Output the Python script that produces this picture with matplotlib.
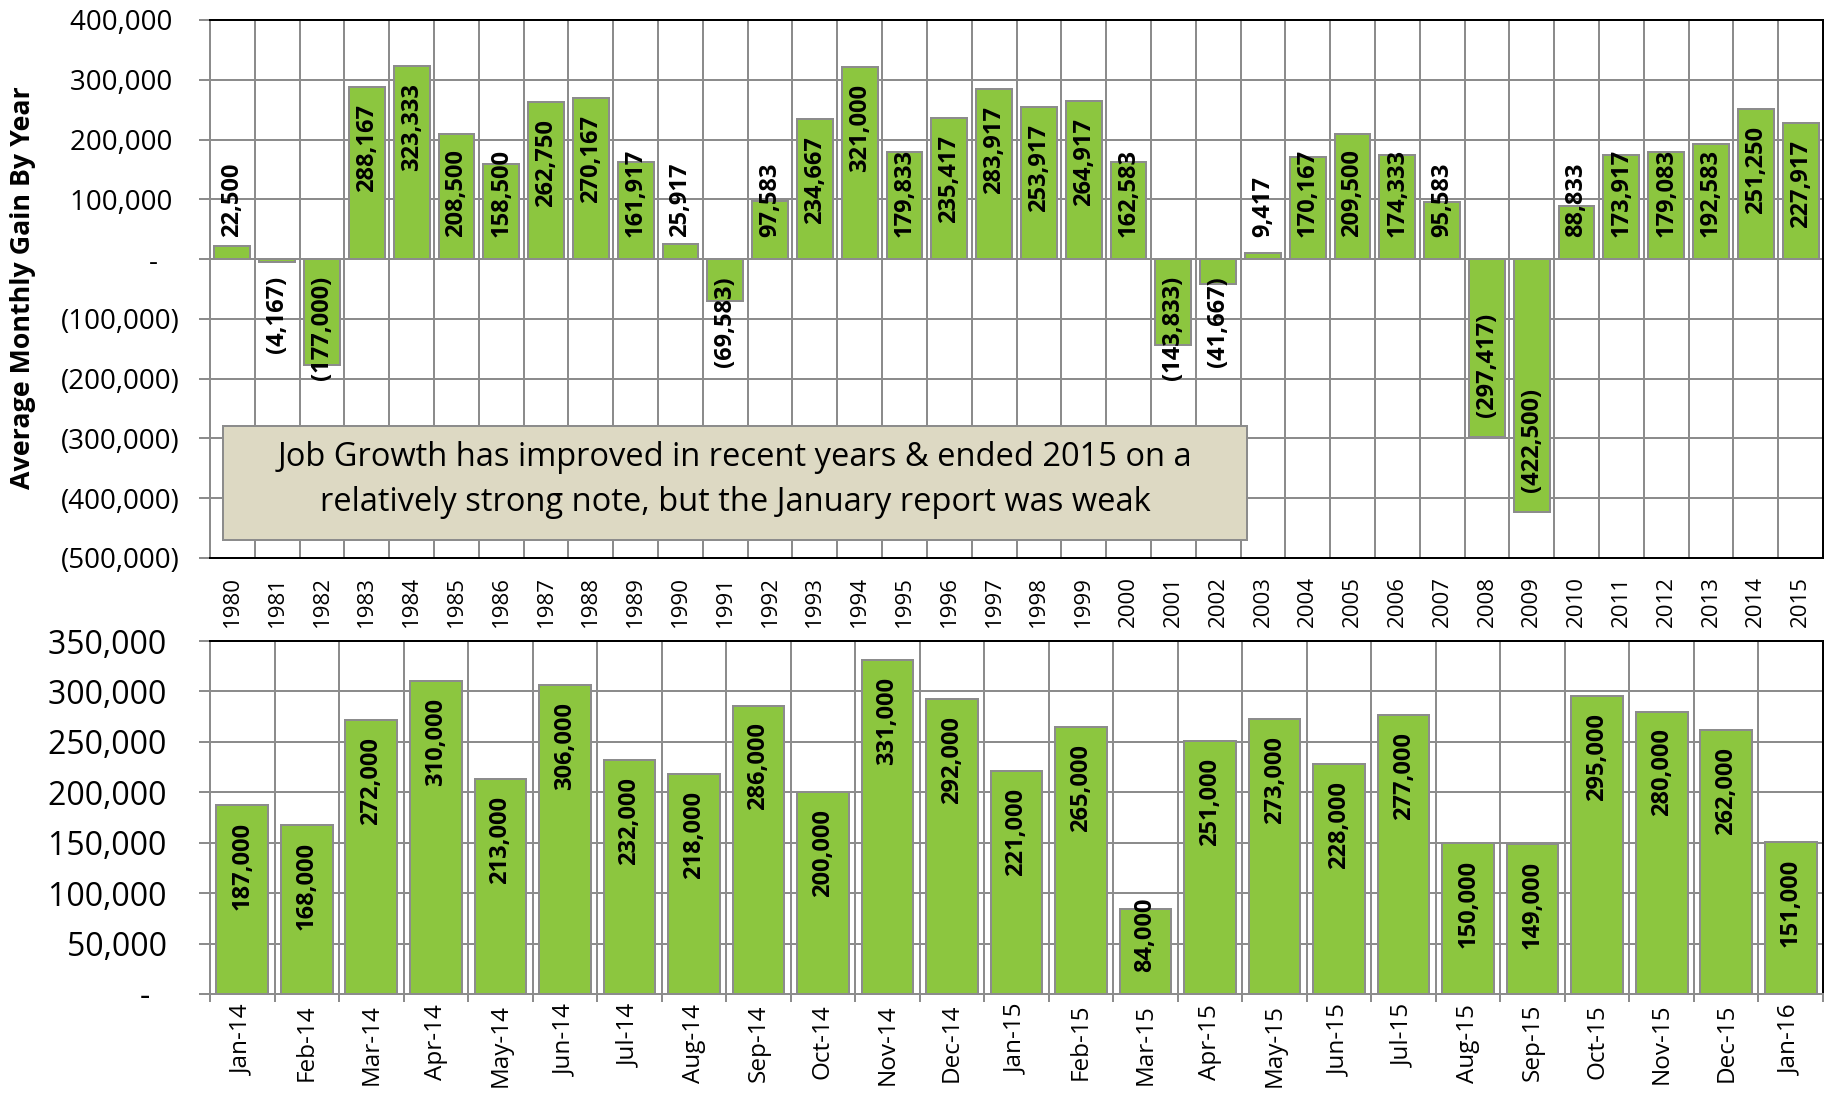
"""Job growth bar charts: yearly average gain and recent monthly gains"""

import numpy as np
import matplotlib

matplotlib.use("Agg")
import matplotlib.pyplot as plt
from matplotlib.patches import Rectangle
from matplotlib.ticker import FuncFormatter
from matplotlib.transforms import ScaledTranslation

plt.rcParams["font.family"] = ["Open Sans", "DejaVu Sans"]

# ---- data -----------------------------------------------------------------
YEARS = [
    "1980", "1981", "1982", "1983", "1984", "1985", "1986", "1987", "1988",
    "1989", "1990", "1991", "1992", "1993", "1994", "1995", "1996", "1997",
    "1998", "1999", "2000", "2001", "2002", "2003", "2004", "2005", "2006",
    "2007", "2008", "2009", "2010", "2011", "2012", "2013", "2014", "2015",
]
YEARLY_GAIN = [
    22500, -4167, -177000, 288167, 323333, 208500, 158500, 262750, 270167,
    161917, 25917, -69583, 97583, 234667, 321000, 179833, 235417, 283917,
    253917, 264917, 162583, -143833, -41667, 9417, 170167, 209500, 174333,
    95583, -297417, -422500, 88833, 173917, 179083, 192583, 251250, 227917,
]
MONTHS = [
    "Jan-14", "Feb-14", "Mar-14", "Apr-14", "May-14", "Jun-14", "Jul-14",
    "Aug-14", "Sep-14", "Oct-14", "Nov-14", "Dec-14", "Jan-15", "Feb-15",
    "Mar-15", "Apr-15", "May-15", "Jun-15", "Jul-15", "Aug-15", "Sep-15",
    "Oct-15", "Nov-15", "Dec-15", "Jan-16",
]
MONTHLY_GAIN = [
    187000, 168000, 272000, 310000, 213000, 306000, 232000, 218000, 286000,
    200000, 331000, 292000, 221000, 265000, 84000, 251000, 273000, 228000,
    277000, 150000, 149000, 295000, 280000, 262000, 151000,
]
TOP_YTICKS = [-500000, -400000, -300000, -200000, -100000, 0,
              100000, 200000, 300000, 400000]
BOTTOM_YTICKS = [0, 50000, 100000, 150000, 200000, 250000, 300000, 350000]

Y_LABEL = "Average Monthly Gain By Year"
NOTE = ("Job Growth has improved in recent years & ended 2015 on a\n"
        "relatively strong note, but the January report was weak")

BAR_COLOR = "#8CC63F"
EDGE_GRAY = "#8C8C8C"
GRID_GRAY = "#8C8C8C"
BOX_COLOR = "#DDD9C3"

W, H, DPI = 1834, 1095, 100


def px(v):
    """pixels -> points"""
    return v * 72 / DPI


def accounting(v, pos=None):
    """Excel style accounting numbers: 1,000 / (1,000) / -"""
    if v > 0:
        return f"{v:,.0f} "
    if v < 0:
        return f"({-v:,.0f})"
    return "-   "


def style_axes(ax, n, labels, yticks, ytick_size, xtick_size, ytick_pad,
               xtick_pad, xtick_len, bottom_black):
    ax.set_xlim(-0.5, n - 0.5)
    ax.set_ylim(yticks[0], yticks[-1])
    ax.set_yticks(yticks)
    ax.yaxis.set_major_formatter(FuncFormatter(accounting))
    ax.set_xticks(np.arange(n))
    ax.set_xticklabels(labels, rotation=90, fontsize=xtick_size)
    ax.set_xticks(np.arange(n + 1) - 0.5, minor=True)

    # gridlines: horizontal at values, vertical between categories
    ax.set_axisbelow(True)
    ax.grid(which="major", axis="y", color=GRID_GRAY, linewidth=px(2))
    ax.grid(which="minor", axis="x", color=GRID_GRAY, linewidth=px(2))

    ax.tick_params(axis="y", which="major", direction="out", length=px(11),
                   width=px(2), color=GRID_GRAY, labelsize=ytick_size,
                   pad=px(ytick_pad))
    ax.tick_params(axis="x", which="major", length=0, pad=px(xtick_pad))
    ax.tick_params(axis="x", which="minor", direction="out", length=px(xtick_len),
                   width=px(2), color=GRID_GRAY)

    for side in ["top", "right"]:
        ax.spines[side].set_color("black")
        ax.spines[side].set_linewidth(px(2))
    ax.spines["left"].set_color(GRID_GRAY)
    ax.spines["left"].set_linewidth(px(2))
    ax.spines["bottom"].set_color("black" if bottom_black else GRID_GRAY)
    ax.spines["bottom"].set_linewidth(px(2))


def add_bar_labels(fig, ax, values, fontsize):
    """Rotated labels, Excel 'inside end' but kept clear of the zero line"""
    renderer = fig.canvas.get_renderer()
    for i, v in enumerate(values):
        t = ax.text(i, v, accounting(v).strip() if v != 0 else "-",
                    rotation=90, ha="center", fontsize=fontsize,
                    fontweight="bold", color="black")
        h = t.get_window_extent(renderer).height
        y_end = ax.transData.transform((i, v))[1]
        y_zero = ax.transData.transform((i, 0))[1]
        if v >= 0:
            if y_end - 17 - h >= y_zero + 22:
                t.set_va("top")
                offset = -17
            else:
                t.set_y(0)
                t.set_va("bottom")
                offset = 22
        else:
            if y_end + 20 + h <= y_zero - 17:
                t.set_va("bottom")
                offset = 20
            else:
                t.set_y(0)
                t.set_va("top")
                offset = -17
        t.set_transform(ax.transData
                        + ScaledTranslation(0, offset / DPI, fig.dpi_scale_trans))


fig = plt.figure(figsize=(W / DPI, H / DPI), dpi=DPI)
ax_top = fig.add_axes([210 / W, 1 - 558 / H, 1613 / W, 538 / H])
ax_bot = fig.add_axes([210 / W, 1 - 994 / H, 1613 / W, 353 / H])

# yearly chart
ax_top.bar(np.arange(len(YEARS)), YEARLY_GAIN, width=0.8, color=BAR_COLOR,
           edgecolor=EDGE_GRAY, linewidth=px(2), zorder=2)
style_axes(ax_top, len(YEARS), YEARS, TOP_YTICKS, ytick_size=20,
           xtick_size=16, ytick_pad=19, xtick_pad=18, xtick_len=0,
           bottom_black=True)

# monthly chart
ax_bot.bar(np.arange(len(MONTHS)), MONTHLY_GAIN, width=0.8, color=BAR_COLOR,
           edgecolor=EDGE_GRAY, linewidth=px(2), zorder=2)
style_axes(ax_bot, len(MONTHS), MONTHS, BOTTOM_YTICKS, ytick_size=23,
           xtick_size=17.5, ytick_pad=24, xtick_pad=10, xtick_len=8,
           bottom_black=False)

add_bar_labels(fig, ax_top, YEARLY_GAIN, 17)
add_bar_labels(fig, ax_bot, MONTHLY_GAIN, 17)

fig.text(23 / W, 1 - 288 / H, Y_LABEL, rotation=90, ha="center", va="center",
         fontsize=19.3, fontweight="bold")

# note box
box = Rectangle((223 / W, 1 - 540 / H), (1247 - 223) / W, 114 / H,
                transform=fig.transFigure, facecolor=BOX_COLOR,
                edgecolor=EDGE_GRAY, linewidth=px(2), zorder=5)
fig.patches.append(box)
fig.text(735 / W, 1 - 480 / H, NOTE, ha="center", va="center", fontsize=23.5,
         linespacing=1.45, zorder=6)

fig.savefig("out.png", dpi=DPI)
